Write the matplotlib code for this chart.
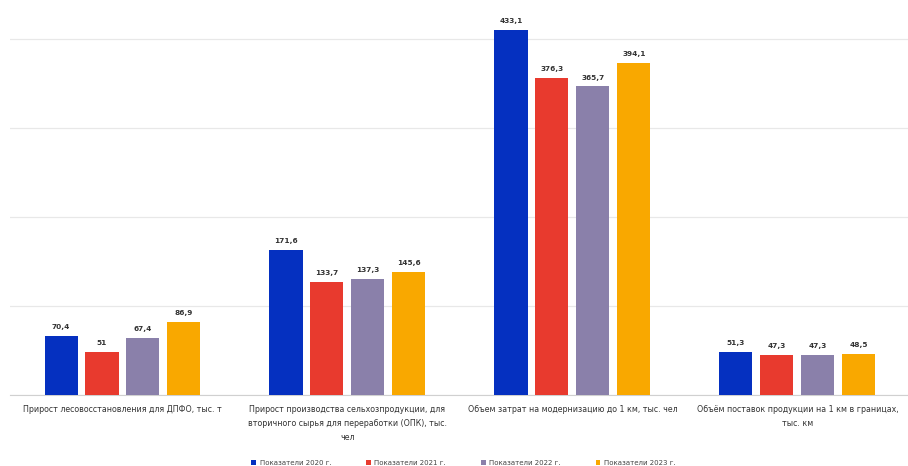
import matplotlib
matplotlib.use("Agg")
import matplotlib.pyplot as plt
import numpy as np

plt.rcParams['font.family'] = ['DejaVu Sans']

categories = [
    "Прирост лесовосстановления для ДПФО, тыс. т",
    "Прирост производства сельхозпродукции, для\nвторичного сырья для переработки (ОПК), тыс.\nчел",
    "Объем затрат на модернизацию до 1 км, тыс. чел",
    "Объём поставок продукции на 1 км в границах,\nтыс. км",
]
series_names = ["Показатели 2020 г.", "Показатели 2021 г.", "Показатели 2022 г.", "Показатели 2023 г."]
v2020 = [70.4, 171.6, 433.1, 51.3]
v2021 = [51.0, 133.7, 376.3, 47.3]
v2022 = [67.4, 137.3, 365.7, 47.3]
v2023 = [86.9, 145.6, 394.1, 48.5]
series = [v2020, v2021, v2022, v2023]
colors = ["#0530c0", "#e83a2e", "#8a80aa", "#f9a800"]

fig = plt.figure(figsize=(9.08, 4.66), dpi=100)
ax = fig.add_axes([0.011, 0.152, 0.991, 0.826])

x = np.arange(len(categories))
width = 0.147
step = 0.182
for i, (vals, c, name) in enumerate(zip(series, colors, series_names)):
    pos = x + (i - 1.5) * step
    bars = ax.bar(pos, vals, width=width, color=c, label=name, zorder=3)
    for b, v in zip(bars, vals):
        txt = f"{v:.1f}".replace(".", ",")
        if txt.endswith(",0"):
            txt = txt[:-2]
        ax.text(b.get_x() + b.get_width() / 2, v + 7, txt, ha="center", va="bottom",
                fontsize=5.3, fontweight="bold", color="#333333", zorder=4)

ax.set_xlim(-0.5, 3.5)
ax.set_ylim(0, 456)
ax.set_yticks([0, 105.5, 211, 316.5, 422])
ax.yaxis.grid(True, color="#e8e8e8", linewidth=0.9, zorder=0)
ax.tick_params(axis="y", left=False, labelleft=False)
ax.set_xticks(x)
ax.set_xticklabels(categories, fontsize=5.7, color="#333333", linespacing=1.75)
ax.tick_params(axis="x", length=0, pad=7)
for s in ["top", "right", "left"]:
    ax.spines[s].set_visible(False)
ax.spines["bottom"].set_color("#d0d0d0")

ax.legend(loc="lower center", bbox_to_anchor=(0.504, -0.2), ncol=4, frameon=False,
          fontsize=5.0, handlelength=0.7, handleheight=0.7, columnspacing=5.0,
          handletextpad=0.5, labelcolor="#444444")

fig.savefig("out.png", dpi=100, facecolor="white")
